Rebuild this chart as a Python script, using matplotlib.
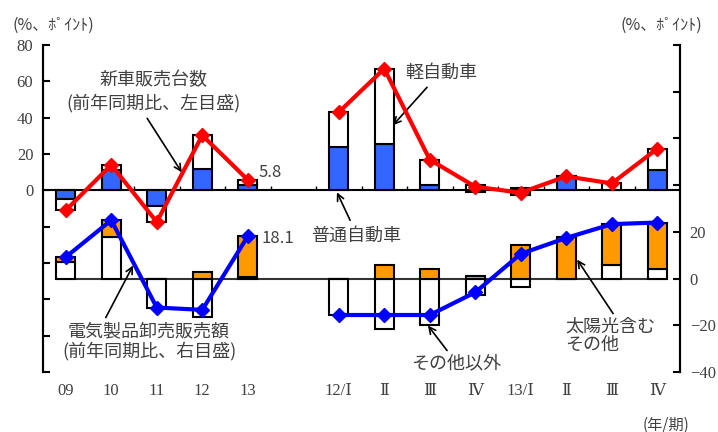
import matplotlib
matplotlib.use("Agg")
import matplotlib.pyplot as plt
import numpy as np

# 横軸（年・四半期）
labels = ["09", "10", "11", "12", "13", "12/Ⅰ", "Ⅱ", "Ⅲ", "Ⅳ", "13/Ⅰ", "Ⅱ", "Ⅲ", "Ⅳ"]
pos = np.array([0, 1, 2, 3, 4, 6, 7, 8, 9, 10, 11, 12, 13])

# 新車販売台数（前年同期比、左目盛）
futsu = np.array([-4.6, 11.0, -8.8, 12.0, 3.0, 24.0, 25.7, 3.0, -0.8, -2.8, 7.2, 0.3, 11.4])
kei = np.array([-6.4, 2.8, -8.6, 18.3, 2.8, 19.0, 41.0, 13.9, 2.8, 1.5, 0.5, 3.5, 11.5])
car_total = np.array([-11.0, 14.0, -17.4, 30.3, 5.8, 43.0, 67.0, 16.9, 2.0, -1.3, 7.7, 3.8, 22.9])

# 電気製品卸売販売額（前年同期比、右目盛）
sonota_igai = np.array([7.3, 17.8, -12.4, -16.4, 0.8, -15.5, -21.5, -20.0, -7.0, -3.7, 0.0, 5.6, 3.9])
taiyoko = np.array([1.9, 7.2, 0.0, 3.0, 17.5, 0.0, 6.0, 4.3, 1.0, 14.2, 17.6, 17.8, 20.1])
elec_total = np.array([9.2, 25.0, -12.4, -13.4, 18.1, -15.6, -15.6, -15.6, -5.9, 10.6, 17.4, 23.3, 24.0])

JP = "Noto Sans CJK JP"
NUM = ["Liberation Serif", "DejaVu Serif", "Noto Sans CJK JP"]
TXT = "#404040"
W = 0.42


def stack(ax, first, second, c1, c2):
    ax.bar(pos, first, W, color=c1, edgecolor="k", lw=1.5, zorder=3)
    base = np.where(np.sign(second) == np.sign(first), first, 0)
    ax.bar(pos, second, W, bottom=base, color=c2, edgecolor="k", lw=1.5, zorder=3)


def split_line(ax, y, color):
    annual = pos < 5
    for m in (annual, ~annual):
        ax.plot(pos[m], y[m], color=color, lw=3, marker="D", ms=7, zorder=5)


fig = plt.figure(figsize=(7.18, 4.32), dpi=100)
ax = fig.add_axes([43 / 718, 60 / 432, 637 / 718, 327 / 432])
ax2 = ax.twinx()

ax.set_xlim(-0.5, 13.5)
ax.set_ylim(-100, 80)
ax2.set_ylim(-40, 100)

stack(ax, futsu, kei, "#3366FF", "white")
split_line(ax, car_total, "#FF0000")
ax.axhline(0, color="k", lw=1.5, zorder=2)
ax.vlines(np.arange(0.5, 13, 1), 0, 2.5, colors="k", lw=1, zorder=2)

ax2.hlines(0, pos[0] - W / 2, pos[-1] + W / 2, colors="#333333", lw=1.5, zorder=1)
stack(ax2, sonota_igai, taiyoko, "white", "#FF9900")
split_line(ax2, elec_total, "#0000FF")

for a in (ax, ax2):
    a.spines["top"].set_visible(False)
    a.spines["bottom"].set_visible(False)
    a.spines["left"].set_linewidth(1.5)
    a.spines["right"].set_linewidth(1.5)
    a.tick_params(axis="y", direction="in", length=5, width=1.5, pad=7, labelsize=12, labelcolor=TXT)

ax.set_yticks(range(-100, 81, 20))
ax.set_yticklabels([""] * 5 + ["0", "20", "40", "60", "80"], family=NUM)
ax2.set_yticks(range(-40, 101, 20))
ax2.set_yticklabels(["−40", "−20", "0", "20"] + [""] * 4, family=NUM)

ax.set_xticks(pos)
ax.set_xticklabels(labels, family=NUM)
ax.tick_params(axis="x", length=0, pad=8, labelsize=12, labelcolor=TXT)
ax2.tick_params(axis="x", length=0)

arrow = dict(arrowstyle="->", color="k", lw=1.2, shrinkA=0, shrinkB=0, mutation_scale=12)

ax.text(1.93, 54.2, "新車販売台数\n(前年同期比、左目盛)", family=JP, fontsize=13, color=TXT,
        ha="center", va="center", linespacing=1.3)
ax.annotate("", xy=(2.55, 9.9), xytext=(1.79, 39.6), arrowprops=arrow)

ax.text(8.26, 64.4, "軽自動車", family=JP, fontsize=13, color=TXT, ha="center", va="center")
ax.annotate("", xy=(7.19, 35.8), xytext=(7.94, 56.7), arrowprops=arrow)

ax.text(6.38, -24.8, "普通自動車", family=JP, fontsize=13, color=TXT, ha="center", va="center")
ax.annotate("", xy=(5.96, -1.1), xytext=(6.25, -16.5), arrowprops=arrow)

ax2.text(1.83, -27, "電気製品卸売販売額\n(前年同期比、右目盛)", family=JP, fontsize=13, color=TXT,
         ha="center", va="center", linespacing=1.05)
ax2.annotate("", xy=(1.48, 5.6), xytext=(0.88, -16.7), arrowprops=arrow)

ax2.text(8.59, -36.4, "その他以外", family=JP, fontsize=13, color=TXT, ha="center", va="center")
ax2.annotate("", xy=(7.96, -20.1), xytext=(8.38, -30.8), arrowprops=arrow)

ax2.text(10.97, -24.4, "太陽光含む\nその他", family=JP, fontsize=13, color=TXT, ha="left", va="center",
         linespacing=1.05)
ax2.annotate("", xy=(11.24, 8.1), xytext=(12.03, -15.0), arrowprops=arrow)

ax.text(4.23, 9.9, "5.8", family=JP, fontsize=12, color=TXT, ha="left", va="center")
ax2.text(4.31, 17.1, "18.1", family=JP, fontsize=12, color=TXT, ha="left", va="center")

fig.text(13 / 718, 1 - 25 / 432, "(%、ﾎﾟｲﾝﾄ)", family=JP, fontsize=11.5, color=TXT, ha="left", va="center")
fig.text(702 / 718, 1 - 25 / 432, "(%、ﾎﾟｲﾝﾄ)", family=JP, fontsize=11.5, color=TXT, ha="right", va="center")
fig.text(666 / 718, 7 / 432, "(年/期)", family=JP, fontsize=11, color=TXT, ha="center", va="center")

fig.savefig("out.png", dpi=100)
